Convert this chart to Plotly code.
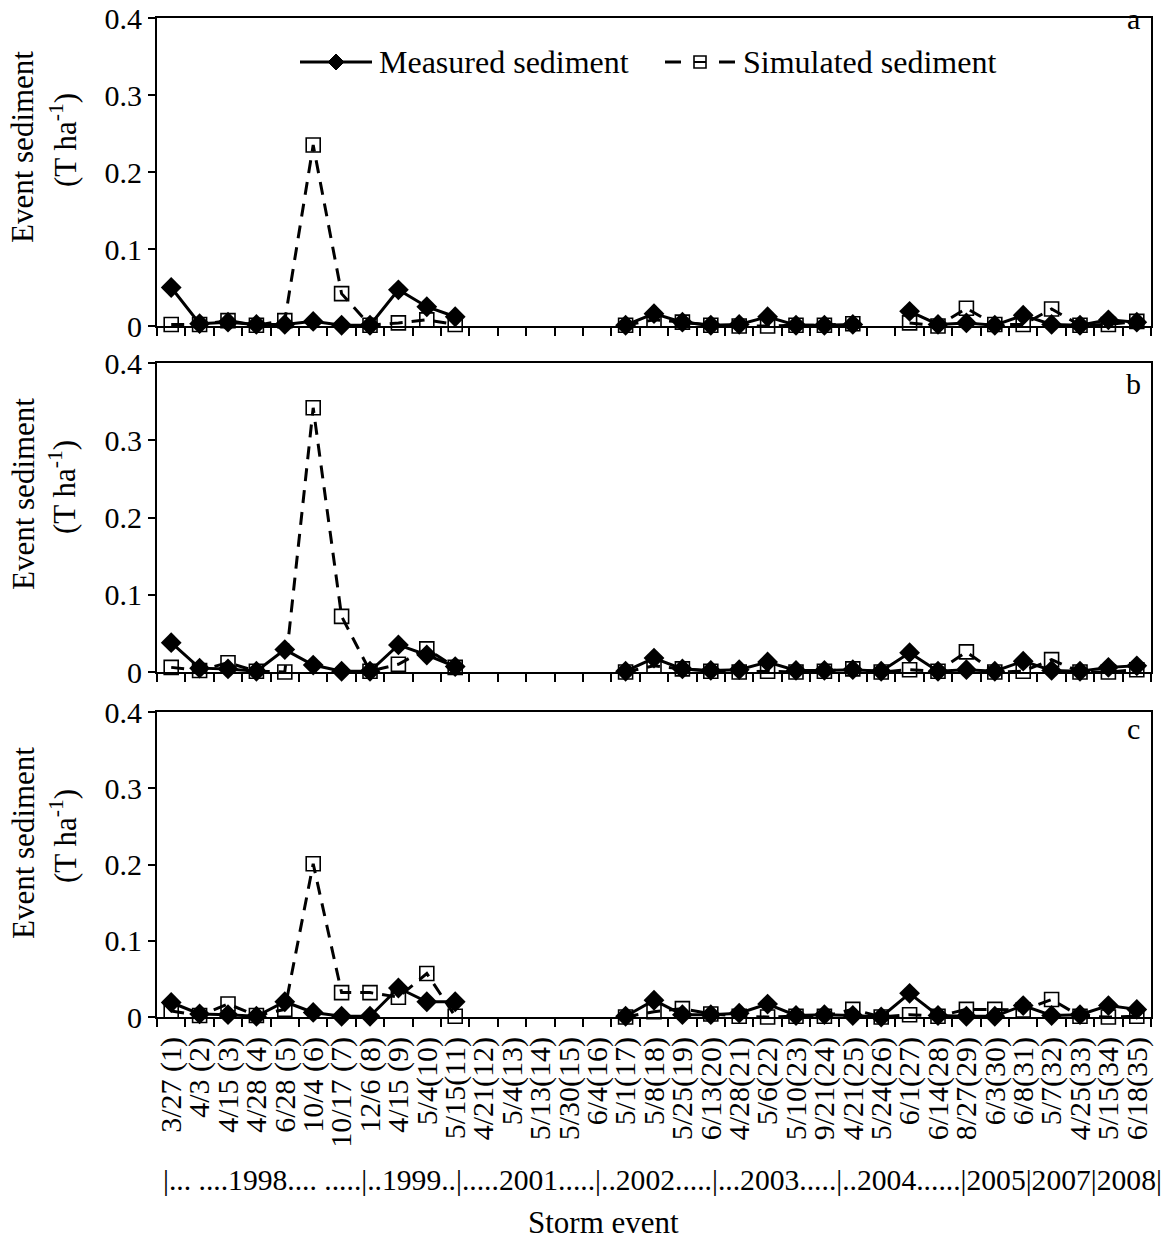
import plotly.graph_objects as go

categories = ["3/27 (1)", "4/3 (2)", "4/15 (3)", "4/28 (4)", "6/28 (5)", "10/4 (6)", "10/17 (7)",
              "12/6 (8)", "4/15 (9)", "5/4(10)", "5/15(11)", "4/21(12)", "5/4(13)", "5/13(14)",
              "5/30(15)", "6/4(16)", "5/1(17)", "5/8(18)", "5/25(19)", "6/13(20)", "4/28(21)",
              "5/6(22)", "5/10(23)", "9/21(24)", "4/21(25)", "5/24(26)", "6/1(27)", "6/14(28)",
              "8/27(29)", "6/3(30)", "6/8(31)", "5/7(32)", "4/25(33)", "5/15(34)", "6/18(35)"]

N = None
measured_a = [0.050, 0.003, 0.005, 0.002, 0.002, 0.006, 0.001, 0.001, 0.047, 0.025, 0.012,
              N, N, N, N, N,
              0.001, 0.016, 0.005, 0.001, 0.002, 0.012, 0.001, 0.001, 0.002, N,
              0.019, 0.002, 0.004, 0.001, 0.014, 0.002, 0.001, 0.008, 0.005]
simulated_a = [0.002, 0.002, 0.007, 0.001, 0.007, 0.235, 0.042, 0.001, 0.004, 0.008, 0.002,
               N, N, N, N, N,
               0.001, 0.008, 0.005, 0.001, 0.000, 0.000, 0.001, 0.001, 0.003, N,
               0.004, 0.000, 0.023, 0.002, 0.002, 0.022, 0.001, 0.002, 0.006]

measured_b = [0.038, 0.005, 0.004, 0.001, 0.029, 0.009, 0.001, 0.001, 0.035, 0.022, 0.007,
              N, N, N, N, N,
              0.001, 0.018, 0.004, 0.002, 0.003, 0.013, 0.002, 0.002, 0.003, 0.001,
              0.025, 0.001, 0.003, 0.001, 0.014, 0.002, 0.001, 0.006, 0.008]
simulated_b = [0.006, 0.002, 0.012, 0.001, 0.000, 0.342, 0.072, 0.001, 0.010, 0.030, 0.006,
               N, N, N, N, N,
               0.000, 0.008, 0.004, 0.001, 0.000, 0.001, 0.000, 0.001, 0.004, 0.000,
               0.003, 0.001, 0.026, 0.000, 0.001, 0.016, 0.000, 0.000, 0.003]

measured_c = [0.019, 0.004, 0.003, 0.001, 0.020, 0.006, 0.001, 0.001, 0.038, 0.020, 0.020,
              N, N, N, N, N,
              0.001, 0.022, 0.003, 0.003, 0.005, 0.017, 0.002, 0.003, 0.002, 0.000,
              0.031, 0.002, 0.001, 0.001, 0.015, 0.002, 0.003, 0.015, 0.010]
simulated_c = [0.008, 0.002, 0.017, 0.002, 0.010, 0.201, 0.032, 0.032, 0.026, 0.057, 0.001,
               N, N, N, N, N,
               0.000, 0.007, 0.011, 0.004, 0.001, 0.000, 0.001, 0.001, 0.010, 0.000,
               0.003, 0.001, 0.010, 0.010, 0.009, 0.023, 0.001, 0.000, 0.001]

panels = [("a", measured_a, simulated_a), ("b", measured_b, simulated_b), ("c", measured_c, simulated_c)]

y_ticks = [0, 0.1, 0.2, 0.3, 0.4]
y_ticktext = ["0", "0.1", "0.2", "0.3", "0.4"]
year_row = "|... ....1998.... .....|..1999..|.....2001.....|..2002.....|...2003.....|..2004......|2005|2007|2008|"

W, H = 1173, 1247
L, R, T, B = 157, 1151, 18, 1017
FONT = "Liberation Serif, Times New Roman, serif"


def px(x):
    return (x - L) / (R - L)


def py(y):
    return (B - y) / (B - T)


panel_px = [(18, 326), (363, 672), (712, 1017)]

fig = go.Figure()
for i, (letter, meas, sim) in enumerate(panels):
    ax = "" if i == 0 else str(i + 1)
    fig.add_trace(go.Scatter(x=categories, y=meas, mode="lines+markers", name="Measured sediment",
                             line=dict(color="black", width=3),
                             marker=dict(symbol="diamond", size=16, color="black"),
                             cliponaxis=False, connectgaps=False, showlegend=False,
                             xaxis="x" + ax, yaxis="y" + ax))
    fig.add_trace(go.Scatter(x=categories, y=sim, mode="lines+markers", name="Simulated sediment",
                             line=dict(color="black", width=3, dash="13px,9px"),
                             marker=dict(symbol="square-open", size=14, color="black",
                                         line=dict(width=1.6, color="black")),
                             cliponaxis=False, connectgaps=False, showlegend=False,
                             xaxis="x" + ax, yaxis="y" + ax))

layout = dict(width=W, height=H, margin=dict(l=L, r=W - R, t=T, b=H - B, autoexpand=False),
              paper_bgcolor="white", plot_bgcolor="white",
              font=dict(family=FONT, size=30, color="black"), showlegend=False)

for i, (top, bot) in enumerate(panel_px):
    ax = "" if i == 0 else str(i + 1)
    layout["xaxis" + ax] = dict(domain=[0, 1], anchor="y" + ax, type="category",
                                categoryorder="array", categoryarray=categories,
                                range=[-0.5, len(categories) - 0.5], autorange=False,
                                tickmode="array", tickvals=categories, ticktext=categories,
                                tickson="boundaries", ticks="outside", ticklen=8, tickwidth=2,
                                tickcolor="black", showline=True, linewidth=2, linecolor="black",
                                mirror=True, showgrid=False, zeroline=False, automargin=False,
                                showticklabels=(i == 2), tickangle=-90, ticklabelstandoff=6,
                                tickfont=dict(family=FONT, size=30, color="black"))
    layout["yaxis" + ax] = dict(domain=[py(bot), py(top)], anchor="x" + ax, range=[0, 0.4],
                                autorange=False,
                                tickvals=y_ticks, ticktext=y_ticktext, ticks="outside",
                                ticklen=7, tickwidth=2, tickcolor="black", showline=True,
                                linewidth=2, linecolor="black", mirror=True, showgrid=False,
                                zeroline=False, automargin=False,
                                tickfont=dict(family=FONT, size=30, color="black"))

fig.update_layout(**layout)

annotations = []
title1_centers = [147, 494, 843]
title2_centers = [140, 487, 836]
letter_centers = [18, 383, 728]
for i, (letter, _, _) in enumerate(panels):
    annotations.append(dict(text="Event sediment", xref="paper", yref="paper",
                            x=px(23), y=py(title1_centers[i]), xanchor="center", yanchor="middle",
                            textangle=-90, showarrow=False,
                            font=dict(family=FONT, size=31, color="black")))
    annotations.append(dict(text="(T ha<sup>-1</sup>)", xref="paper", yref="paper",
                            x=px(63), y=py(title2_centers[i]), xanchor="center", yanchor="middle",
                            textangle=-90, showarrow=False,
                            font=dict(family=FONT, size=31, color="black")))
    annotations.append(dict(text=letter, xref="paper", yref="paper", x=px(1133), y=py(letter_centers[i]),
                            xanchor="center", yanchor="middle", showarrow=False,
                            font=dict(family=FONT, size=30, color="black")))

annotations.append(dict(text=year_row, xref="paper", yref="paper", x=px(662), y=py(1180),
                        xanchor="center", yanchor="middle", showarrow=False,
                        font=dict(family=FONT, size=29.6, color="black")))
annotations.append(dict(text="Storm event", xref="paper", yref="paper", x=px(603), y=py(1222),
                        xanchor="center", yanchor="middle", showarrow=False,
                        font=dict(family=FONT, size=31, color="black")))
# legend text
annotations.append(dict(text="Measured sediment", xref="paper", yref="paper", x=px(377), y=py(62),
                        xanchor="left", yanchor="middle", showarrow=False,
                        font=dict(family=FONT, size=32, color="black")))
annotations.append(dict(text="Simulated sediment", xref="paper", yref="paper", x=px(741), y=py(62),
                        xanchor="left", yanchor="middle", showarrow=False,
                        font=dict(family=FONT, size=32, color="black")))

shapes = []
# legend key: measured
shapes.append(dict(type="line", xref="paper", yref="paper", x0=px(300), x1=px(372), y0=py(62), y1=py(62),
                   line=dict(color="black", width=3)))
cx, cy, r = 336, 62, 8
shapes.append(dict(type="path", xref="paper", yref="paper",
                   path=f"M{px(cx)},{py(cy - r)} L{px(cx + r)},{py(cy)} L{px(cx)},{py(cy + r)} L{px(cx - r)},{py(cy)} Z",
                   fillcolor="black", line=dict(color="black", width=1)))
# legend key: simulated
shapes.append(dict(type="line", xref="paper", yref="paper", x0=px(665), x1=px(681), y0=py(62), y1=py(62),
                   line=dict(color="black", width=3)))
shapes.append(dict(type="line", xref="paper", yref="paper", x0=px(719), x1=px(735), y0=py(62), y1=py(62),
                   line=dict(color="black", width=3)))
shapes.append(dict(type="line", xref="paper", yref="paper", x0=px(694), x1=px(706), y0=py(62), y1=py(62),
                   line=dict(color="black", width=2)))
shapes.append(dict(type="rect", xref="paper", yref="paper", x0=px(694), x1=px(706), y0=py(68), y1=py(56),
                   line=dict(color="black", width=1.6), fillcolor="rgba(0,0,0,0)"))

fig.update_layout(annotations=annotations, shapes=shapes)
fig.write_html("out.html")
